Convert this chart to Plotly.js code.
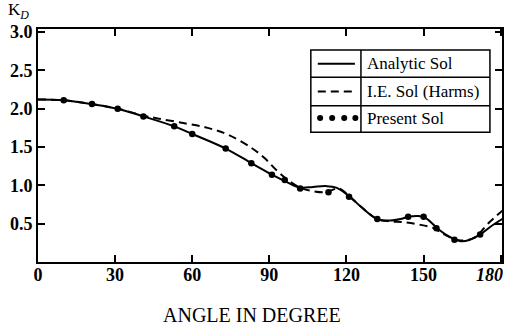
<!DOCTYPE html>
<html>
<head>
<meta charset="utf-8">
<script src="https://cdn.plot.ly/plotly-3.0.1.min.js"></script>
<style>html,body{margin:0;padding:0;background:#fff;}#chart{width:505px;height:329px;}</style>
</head>
<body>
<div id="chart"></div>
<script>
// Series names
const seriesNames = ["Analytic Sol", "I.E. Sol (Harms)", "Present Sol"];

// Analytic solution (solid line)
const analyticX = [0, 10, 21, 31, 41, 53, 60, 73, 83, 91, 97, 102, 107, 112, 116, 121, 126, 132, 137, 141, 144, 148, 151, 156, 160, 164.5, 168, 172, 176, 181];
const analyticY = [2.12, 2.11, 2.06, 2.00, 1.90, 1.77, 1.67, 1.48, 1.29, 1.14, 1.04, 0.97, 0.98, 0.99, 0.97, 0.86, 0.71, 0.56, 0.54, 0.56, 0.59, 0.60, 0.57, 0.42, 0.33, 0.27, 0.29, 0.36, 0.46, 0.57];

// I.E. solution (Harms) (dashed line)
const ieX = [0, 10, 21, 31, 41, 47, 57, 66, 74, 83, 88, 93, 98, 102, 106, 112, 117, 121, 126, 132, 137, 142, 148, 154, 158, 164.5, 170, 175, 181];
const ieY = [2.12, 2.11, 2.06, 2.00, 1.91, 1.87, 1.81, 1.75, 1.66, 1.49, 1.36, 1.19, 1.05, 0.97, 0.93, 0.91, 0.96, 0.86, 0.71, 0.56, 0.53, 0.52, 0.49, 0.44, 0.36, 0.28, 0.32, 0.50, 0.68];

// Present solution (dots)
const presentX = [10, 21, 31, 41, 53, 60, 73, 83, 91, 96, 102, 113, 121, 132, 144, 150, 155, 162, 172];
const presentY = [2.11, 2.06, 2.00, 1.90, 1.77, 1.67, 1.48, 1.29, 1.14, 1.07, 0.96, 0.91, 0.85, 0.56, 0.59, 0.59, 0.44, 0.29, 0.36];

// Tick labels
const xTicks = [0, 30, 60, 90, 120, 150, 180];
const xTickText = ["0", "30", "60", "90", "120", "150", ""];
const lastXTickLabel = "<i>180</i>";
const yTicks = [0.5, 1.0, 1.5, 2.0, 2.5, 3.0];
const xTitle = "ANGLE IN DEGREE";
const yTitle = "K<sub><i>D</i></sub>";

const FONT = "Liberation Serif, Times New Roman, serif";

const traces = [
  {x: analyticX, y: analyticY, name: seriesNames[0], mode: "lines",
   line: {color: "#000", width: 2, shape: "spline", smoothing: 1}},
  {x: ieX, y: ieY, name: seriesNames[1], mode: "lines",
   line: {color: "#000", width: 2, dash: "8px,5px", shape: "spline", smoothing: 1}},
  {x: presentX, y: presentY, name: seriesNames[2], mode: "markers",
   marker: {color: "#000", size: 6.5}}
];

// custom boxed legend (paper coordinates)
const L = {x0: 0.588, x1: 0.974, xd: 0.696, y0: 0.557, y1: 0.910, r1: 0.793, r2: 0.671};
const shapes = [
  {type: "rect", xref: "paper", yref: "paper", x0: L.x0, x1: L.x1, y0: L.y0, y1: L.y1, line: {color: "#000", width: 1.5}, fillcolor: "#fff", layer: "above"},
  {type: "line", xref: "paper", yref: "paper", x0: L.xd, x1: L.xd, y0: L.y0, y1: L.y1, line: {color: "#000", width: 1.5}, layer: "above"},
  {type: "line", xref: "paper", yref: "paper", x0: L.x0, x1: L.x1, y0: L.r1, y1: L.r1, line: {color: "#000", width: 1.5}, layer: "above"},
  {type: "line", xref: "paper", yref: "paper", x0: L.x0, x1: L.x1, y0: L.r2, y1: L.r2, line: {color: "#000", width: 1.5}, layer: "above"},
  {type: "line", xref: "paper", yref: "paper", x0: 0.603, x1: 0.683, y0: 0.851, y1: 0.851, line: {color: "#000", width: 2}, layer: "above"},
  {type: "line", xref: "paper", yref: "paper", x0: 0.603, x1: 0.685, y0: 0.732, y1: 0.732, line: {color: "#000", width: 2, dash: "8px,5px"}, layer: "above"}
];
const dotXs = [0.608, 0.634, 0.660, 0.684];
dotXs.forEach(function (dx) {
  shapes.push({type: "circle", xref: "paper", yref: "paper", x0: dx - 0.0065, x1: dx + 0.0065, y0: 0.605, y1: 0.631, fillcolor: "#000", line: {color: "#000", width: 0}, layer: "above"});
});

const annotations = [
  {xref: "paper", yref: "paper", x: 0.705, y: 0.851, xanchor: "left", yanchor: "middle", showarrow: false, text: seriesNames[0], font: {family: FONT, size: 17, color: "#000"}},
  {xref: "paper", yref: "paper", x: 0.705, y: 0.732, xanchor: "left", yanchor: "middle", showarrow: false, text: seriesNames[1], font: {family: FONT, size: 17, color: "#000"}},
  {xref: "paper", yref: "paper", x: 0.705, y: 0.614, xanchor: "left", yanchor: "middle", showarrow: false, text: seriesNames[2], font: {family: FONT, size: 17, color: "#000"}},
  {xref: "paper", yref: "paper", x: 0.461, y: -0.227, xanchor: "center", yanchor: "middle", showarrow: false, text: xTitle, font: {family: FONT, size: 20, color: "#000"}},
  {xref: "paper", yref: "paper", x: -0.068, y: 1.078, xanchor: "left", yanchor: "middle", showarrow: false, text: yTitle, font: {family: FONT, size: 17, color: "#000"}},
  {xref: "x", yref: "paper", x: 180, y: -0.054, xanchor: "right", yanchor: "middle", xshift: 4, showarrow: false, text: lastXTickLabel, font: {family: FONT, size: 18, weight: "bold", color: "#000"}}
];

const layout = {
  width: 505, height: 329,
  margin: {l: 38, r: 3, t: 29, b: 67, pad: 0},
  paper_bgcolor: "#fff", plot_bgcolor: "#fff",
  showlegend: false,
  font: {family: FONT, color: "#000"},
  xaxis: {
    range: [0, 180.5], tickvals: xTicks, ticktext: xTickText,
    ticks: "inside", ticklen: 7, tickwidth: 2, tickcolor: "#000",
    showline: true, linewidth: 2, linecolor: "#000", mirror: "ticks",
    showgrid: false, zeroline: false, ticklabelstandoff: -5,
    tickfont: {family: FONT, size: 18, weight: "bold", color: "#000"}
  },
  yaxis: {
    range: [0, 3.04], tickvals: yTicks, ticktext: yTicks.map(function (v) { return v.toFixed(1); }),
    ticks: "inside", ticklen: 7, tickwidth: 2, tickcolor: "#000",
    showline: true, linewidth: 2, linecolor: "#000", mirror: "ticks",
    showgrid: false, zeroline: false, ticklabelstandoff: 0,
    tickfont: {family: FONT, size: 18, weight: "bold", color: "#000"}
  },
  shapes: shapes,
  annotations: annotations
};

Plotly.newPlot("chart", traces, layout, {staticPlot: true, displayModeBar: false});
</script>
</body>
</html>
